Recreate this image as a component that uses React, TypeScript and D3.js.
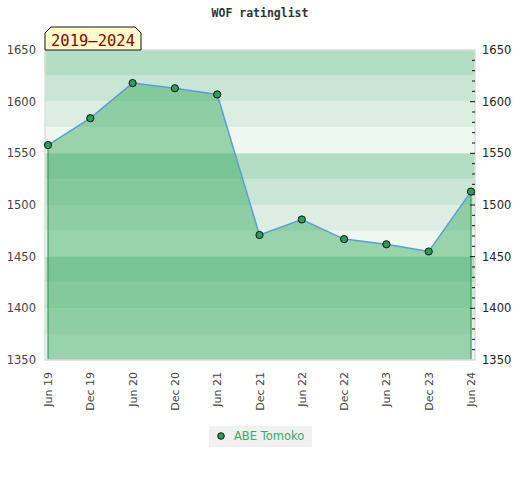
import React, { useEffect, useRef } from 'react';
import * as d3 from 'd3';

const periods = ['Jun 19', 'Dec 19', 'Jun 20', 'Dec 20', 'Jun 21', 'Dec 21', 'Jun 22', 'Dec 22', 'Jun 23', 'Dec 23', 'Jun 24'];
const ratings = [1558, 1584, 1618, 1613, 1607, 1471, 1486, 1467, 1462, 1455, 1513];
const yTicks = [1350, 1400, 1450, 1500, 1550, 1600, 1650];
const bandColors = ['#b3dec3', '#c8e6d4', '#dcede2', '#eff7f1'];
const playerName = 'ABE Tomoko';
const rangeLabel = '2019–2024';
const title = 'WOF ratinglist';

const W = 520;
const H = 480;

const App: React.FC = () => {
  const ref = useRef<SVGSVGElement | null>(null);

  useEffect(() => {
    const svg = d3.select(ref.current);
    svg.selectAll('*').remove();

    const left = 45, right = 475, top = 50, bottom = 360;
    const x = d3.scalePoint<string>().domain(periods).range([48, 471]);
    const y = d3.scaleLinear().domain([1350, 1650]).range([bottom, top]);

    // background bands, 25 points each
    const bands = d3.range(1650, 1350, -25);
    svg.append('g')
      .selectAll('rect')
      .data(bands)
      .enter()
      .append('rect')
      .attr('x', left)
      .attr('width', right - left)
      .attr('y', d => y(d))
      .attr('height', d => y(d - 25) - y(d))
      .attr('fill', (d, i) => bandColors[i % 4]);

    const pts = periods.map((p, i) => ({ p, v: ratings[i] }));

    // area
    svg.append('path')
      .datum(pts)
      .attr('fill', '#30a658')
      .attr('fill-opacity', 0.45)
      .attr('d', d3.area<any>()
        .x(d => x(d.p)!)
        .y0(bottom)
        .y1(d => y(d.v)));

    // side edges of area
    [pts[0], pts[pts.length - 1]].forEach(d => {
      svg.append('line')
        .attr('x1', x(d.p)!).attr('x2', x(d.p)!)
        .attr('y1', y(d.v)).attr('y2', bottom)
        .attr('stroke', '#2ea35a')
        .attr('stroke-width', 1.2);
    });

    // frame
    svg.append('rect')
      .attr('x', left).attr('y', top)
      .attr('width', right - left).attr('height', bottom - top)
      .attr('fill', 'none')
      .attr('stroke', '#dddddd')
      .attr('stroke-width', 1.5);

    // right ticks (minor every 10)
    const minor = d3.range(1360, 1650, 10);
    svg.append('g')
      .selectAll('line')
      .data(minor)
      .enter()
      .append('line')
      .attr('x1', d => (d % 50 === 0 ? 470 : 472))
      .attr('x2', 475)
      .attr('y1', d => y(d))
      .attr('y2', d => y(d))
      .attr('stroke', '#111')
      .attr('stroke-width', 1);

    // line
    svg.append('path')
      .datum(pts)
      .attr('fill', 'none')
      .attr('stroke', '#5c9fd6')
      .attr('stroke-width', 1.5)
      .attr('d', d3.line<any>()
        .x(d => x(d.p)!)
        .y(d => y(d.v)));

    // dots
    svg.append('g')
      .selectAll('circle')
      .data(pts)
      .enter()
      .append('circle')
      .attr('cx', d => x(d.p)!)
      .attr('cy', d => y(d.v))
      .attr('r', 3.6)
      .attr('fill', '#2e9d5b')
      .attr('stroke', '#111')
      .attr('stroke-width', 1);

    // y labels
    const font = '"DejaVu Sans", sans-serif';
    svg.append('g')
      .selectAll('text')
      .data(yTicks)
      .enter()
      .append('text')
      .attr('x', 36)
      .attr('y', d => y(d))
      .attr('dy', '0.35em')
      .attr('text-anchor', 'end')
      .attr('font-family', font)
      .attr('font-size', 11.5)
      .attr('fill', '#444')
      .text(d => d);

    svg.append('g')
      .selectAll('text')
      .data(yTicks)
      .enter()
      .append('text')
      .attr('x', 482)
      .attr('y', d => y(d))
      .attr('dy', '0.35em')
      .attr('font-family', font)
      .attr('font-size', 11.5)
      .attr('fill', '#222')
      .text(d => d);

    // x labels
    svg.append('g')
      .selectAll('text')
      .data(periods)
      .enter()
      .append('text')
      .attr('transform', d => `translate(${x(d)! + 4},372) rotate(-90)`)
      .attr('text-anchor', 'end')
      .attr('font-family', font)
      .attr('font-size', 11)
      .attr('fill', '#444')
      .text(d => d);

    // title
    svg.append('text')
      .attr('x', 260)
      .attr('y', 17)
      .attr('text-anchor', 'middle')
      .attr('font-family', '"DejaVu Sans Mono", monospace')
      .attr('font-weight', 'bold')
      .attr('font-size', 11.5)
      .attr('fill', '#333')
      .text(title);

    // range badge
    const bx0 = 45, bx1 = 141, by0 = 27, by1 = 50, c = 6;
    svg.append('path')
      .attr('d', `M${bx0},${by1} L${bx0},${by0 + c} L${bx0 + c},${by0} L${bx1 - c},${by0} L${bx1},${by0 + c} L${bx1},${by1} Z`)
      .attr('fill', '#ffffcc')
      .attr('stroke', '#111')
      .attr('stroke-width', 1);
    svg.append('text')
      .attr('x', (bx0 + bx1) / 2)
      .attr('y', 45.5)
      .attr('text-anchor', 'middle')
      .attr('font-family', '"DejaVu Sans Mono", monospace')
      .attr('font-size', 15.5)
      .attr('fill', '#8b0000')
      .text(rangeLabel);

    // legend
    const lg = svg.append('g');
    lg.append('rect')
      .attr('x', 209).attr('y', 426)
      .attr('width', 103).attr('height', 21)
      .attr('fill', '#f0f0f0');
    lg.append('circle')
      .attr('cx', 221).attr('cy', 436)
      .attr('r', 3.3)
      .attr('fill', '#2e9d5b')
      .attr('stroke', '#111')
      .attr('stroke-width', 1);
    lg.append('text')
      .attr('x', 234).attr('y', 440)
      .attr('font-family', font)
      .attr('font-size', 11.5)
      .attr('fill', '#3aad62')
      .text(playerName);
  }, []);

  return (
    <svg ref={ref} width={W} height={H} style={{ position: 'absolute', left: 0, top: 0, background: '#fff' }} />
  );
};

export default App;
